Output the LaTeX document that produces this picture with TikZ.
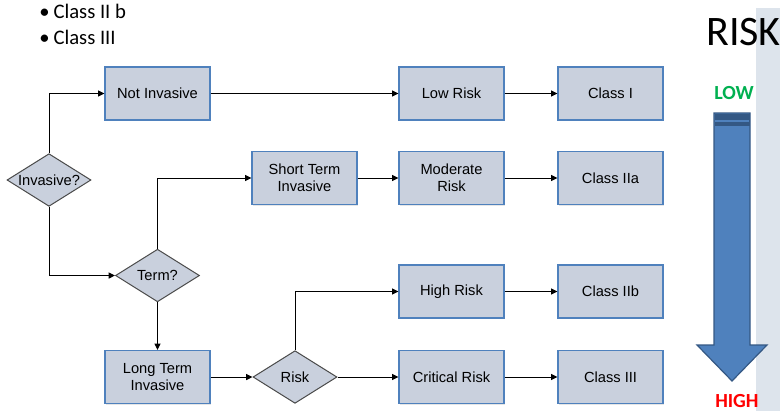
\documentclass[tikz,border=0pt]{standalone}
\usepackage{fontspec}
\setmainfont{Liberation Sans}
\newfontfamily\calibri{Carlito}
\usepackage{tikz}
\usetikzlibrary{shapes.geometric, arrows.meta, shadows}

\definecolor{boxfill}{RGB}{201,208,221}
\definecolor{boxline}{RGB}{79,129,189}
\definecolor{dialine}{RGB}{75,75,75}
\definecolor{bandfill}{RGB}{221,228,236}
\definecolor{riskblue}{RGB}{79,129,189}
\definecolor{riskdark}{RGB}{52,88,132}
\definecolor{lowgreen}{RGB}{0,176,80}

\tikzset{
  stepbox/.style={draw=boxline, fill=boxfill, line width=0.9pt, minimum width=78.75pt, minimum height=39.75pt, inner sep=0pt, align=center, font=\fontsize{11}{12.75}\selectfont, drop shadow={opacity=0.2, shadow xshift=1pt, shadow yshift=-1pt}},
  decision/.style={diamond, draw=dialine, fill=boxfill, line width=0.75pt, inner sep=0pt, minimum width=63pt, minimum height=39.5pt, label={[font=\fontsize{11}{12.75}\selectfont]center:#1}},
  flow/.style={line width=0.75pt, -{Triangle[length=4.7pt,width=4.5pt]}}
}

\begin{document}
\begin{tikzpicture}[x=0.75pt,y=0.75pt,yscale=-1,xscale=1]
\useasboundingbox (0,0) rectangle (780,411);
\clip (0,0) rectangle (780,411);

%Shape: Rectangle (band)
\fill [bandfill] (756,8) rectangle (780,411);

% Text Node
\draw (39,18) node [anchor=base west][inner sep=0pt] {\calibri\fontsize{15.5}{18}\selectfont \textbullet\hspace{3pt}Class II b};
% Text Node
\draw (39,44) node [anchor=base west][inner sep=0pt] {\calibri\fontsize{15.5}{18}\selectfont \textbullet\hspace{3pt}Class III};
% Text Node
\draw (706,45) node [anchor=base west][inner sep=0pt] (risktitle) {\calibri\fontsize{31.5}{34}\selectfont RISK};
% Text Node
\draw (714,99) node [anchor=base west][inner sep=0pt] (low) {\calibri\bfseries\color{lowgreen}\fontsize{15}{17}\selectfont LOW};
% Text Node
\draw (715,407) node [anchor=base west][inner sep=0pt] (high) {\calibri\bfseries\color{red}\fontsize{15}{17}\selectfont HIGH};

%Shape: Down Arrow
\draw [riskdark, fill=riskblue, line width=0.9pt] (714,113) -- (750,113) -- (750,345) -- (767,345) -- (732,381) -- (697,345) -- (714,345) -- cycle ;
\fill [riskdark] (714.5,113.5) rectangle (749.5,126) ;
\draw [riskblue, line width=1.5pt] (715,120.5) -- (749,120.5) ;

% Decision Nodes
\node [decision=Invasive?] (invasive) at (49,180) {};
\node [decision=Term?] (term) at (157.5,275.5) {};
\node [decision=Risk] (riskdec) at (295,377) {};

% Text Node
\node [stepbox] (notinv) at (157.5,93.5) {Not Invasive};
\node [stepbox] (lowrisk) at (451.5,93.5) {Low Risk};
\node [stepbox] (classone) at (610.5,93.5) {Class I};
\node [stepbox] (shortinv) at (304.5,178) {Short Term\\Invasive};
\node [stepbox] (modrisk) at (451.5,178) {Moderate\\Risk};
\node [stepbox] (classtwoa) at (610.5,178) {Class IIa};
\node [stepbox] (highrisk) at (451.5,291.5) {High Risk};
\node [stepbox] (classtwob) at (610.5,291.5) {Class IIb};
\node [stepbox] (longinv) at (157.5,377) {Long Term\\Invasive};
\node [stepbox] (critrisk) at (451.5,377) {Critical Risk};
\node [stepbox] (classthree) at (610.5,377) {Class III};

%Straight Lines
\draw [flow] (invasive.north) |- (notinv.west) ;
\draw [flow] (invasive.south) |- (term.west) ;
\draw [flow] (term.north) |- (shortinv.west) ;
\draw [flow] (term.south) -- (longinv.north) ;
\draw [flow] (longinv.east) -- (riskdec.west) ;
\draw [flow] (riskdec.north) |- (highrisk.west) ;
\draw [flow] (riskdec.east) -- (critrisk.west) ;

\draw [flow] (notinv.east) -- (lowrisk.west) ;
\draw [flow] (lowrisk.east) -- (classone.west) ;
\draw [flow] (shortinv.east) -- (modrisk.west) ;
\draw [flow] (modrisk.east) -- (classtwoa.west) ;
\draw [flow] (highrisk.east) -- (classtwob.west) ;
\draw [flow] (critrisk.east) -- (classthree.west) ;

\end{tikzpicture}
\end{document}
